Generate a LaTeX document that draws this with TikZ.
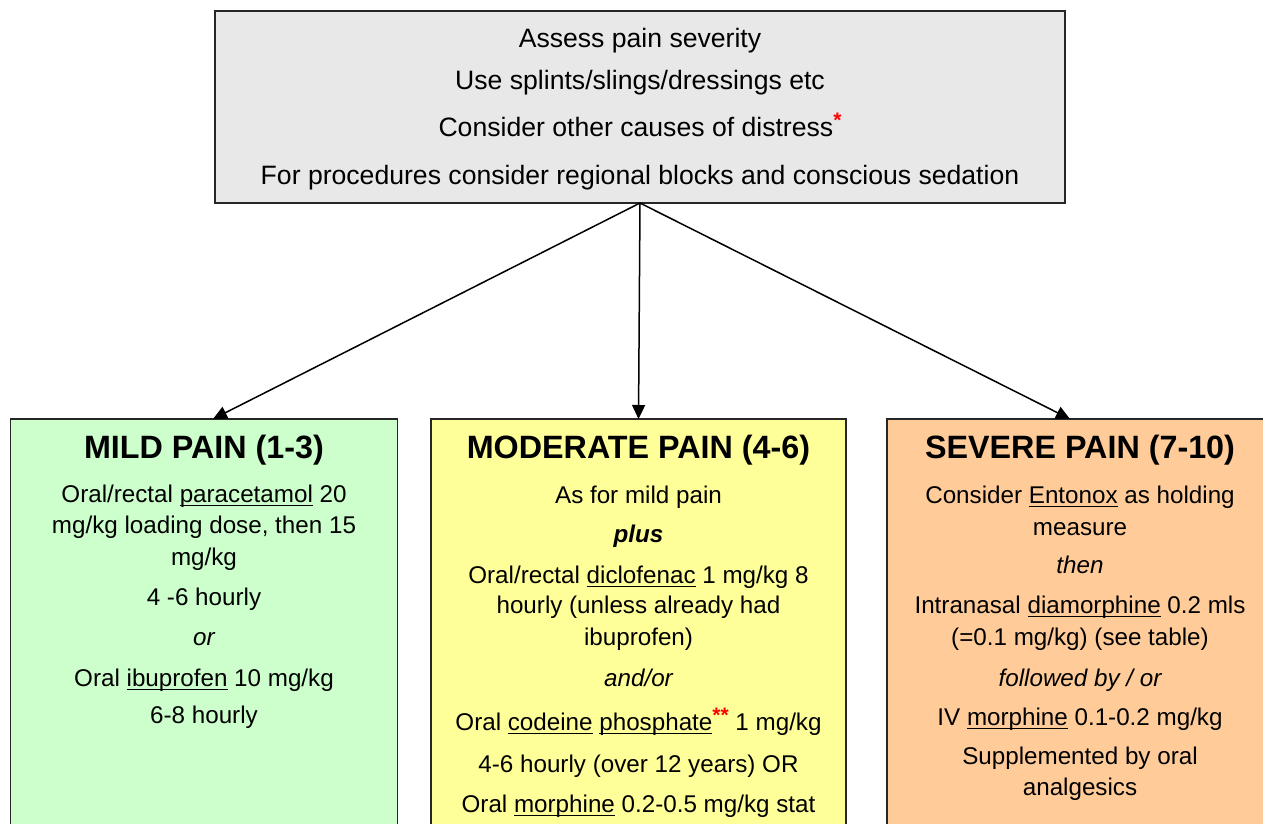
\documentclass[tikz,border=0pt]{standalone}
\usepackage{fontspec}
\setmainfont{Liberation Sans}
\usetikzlibrary{arrows.meta}
\definecolor{topgray}{RGB}{232,232,232}
\definecolor{mildgreen}{RGB}{204,255,204}
\definecolor{modyellow}{RGB}{255,255,153}
\definecolor{sevorange}{RGB}{255,204,153}
\definecolor{starred}{RGB}{255,0,0}
\newcommand\ulx[1]{\setbox0=\hbox{#1}\rlap{\rule[-4pt]{\wd0}{1.5pt}}\box0\relax}
\newcommand\redstar[1]{\raisebox{0.32em}{\textcolor{starred}{\fontsize{21}{21}\selectfont\bfseries #1}}}
\tikzset{
  box/.style={draw=black!85, line width=1.5pt, inner sep=0pt, outer sep=0pt},
  txt/.style={anchor=base, inner sep=0pt, font=\fontsize{24.2}{28}\selectfont},
  toptxt/.style={anchor=base, inner sep=0pt, font=\fontsize{26.6}{30}\selectfont},
  ttl/.style={anchor=base, inner sep=0pt, font=\fontsize{32.3}{36}\selectfont\bfseries},
  arr/.style={line width=1.5pt, -{Triangle[length=14pt,width=13pt]}}
}
\begin{document}
\begin{tikzpicture}[x=1pt,y=-1pt]
\clip (0,0) rectangle (1263,823);
\fill[white] (0,0) rectangle (1263,823);
% boxes
\node[box, fill=topgray, minimum width=850pt, minimum height=192pt] (top) at (640,107) {};
\node[box, fill=mildgreen, minimum width=387pt, minimum height=440pt] (mild) at (204,639) {};
\node[box, fill=modyellow, minimum width=415pt, minimum height=440pt] (mod) at (638.5,639) {};
\node[box, fill=sevorange, minimum width=386pt, minimum height=440pt] (sev) at (1080,639) {};
% connectors
\draw[arr] (top.south) -- (213,419);
\draw[arr] (top.south) -- (mod.north);
\draw[arr] (top.south) -- (1070,419);
% top text
\node[toptxt] (t1) at (640,47) {Assess pain severity};
\node[toptxt] (t2) at (640,89) {Use splints/slings/dressings etc};
\node[toptxt] (t3) at (640,136) {Consider other causes of distress\redstar{*}};
\node[toptxt] (t4) at (640,184) {For procedures consider regional blocks and conscious sedation};
% mild
\node[ttl] (m0) at (204,458) {MILD PAIN (1-3)};
\node[txt] (m1) at (204,502) {Oral/rectal \ulx{paracetamol} 20};
\node[txt] (m2) at (204,533) {mg/kg loading dose, then 15};
\node[txt] (m3) at (204,565) {mg/kg};
\node[txt] (m4) at (204,605) {4 -6 hourly};
\node[txt] (m5) at (204,645) {\itshape or};
\node[txt] (m6) at (204,686) {Oral \ulx{ibuprofen} 10 mg/kg};
\node[txt] (m7) at (204,723) {6-8 hourly};
% moderate
\node[ttl] (d0) at (638.5,458) {MODERATE PAIN (4-6)};
\node[txt] (d1) at (638.5,503) {As for mild pain};
\node[txt] (d2) at (638.5,542) {\bfseries\itshape plus};
\node[txt] (d3) at (638.5,583) {Oral/rectal \ulx{diclofenac} 1 mg/kg 8};
\node[txt] (d4) at (638.5,613) {hourly (unless already had};
\node[txt] (d5) at (638.5,645) {ibuprofen)};
\node[txt] (d6) at (638.5,686) {\itshape and/or};
\node[txt] (d7) at (638.5,730) {Oral \ulx{codeine} \ulx{phosphate}\redstar{**} 1 mg/kg};
\node[txt] (d8) at (638.5,772) {4-6 hourly (over 12 years) OR};
\node[txt] (d9) at (638.5,812) {Oral \ulx{morphine} 0.2-0.5 mg/kg stat};
% severe
\node[ttl] (s0) at (1080,458) {SEVERE PAIN (7-10)};
\node[txt] (s1) at (1080,503) {Consider \ulx{Entonox} as holding};
\node[txt] (s2) at (1080,535) {measure};
\node[txt] (s3) at (1080,573) {\itshape then};
\node[txt] (s4) at (1080,613) {Intranasal \ulx{diamorphine} 0.2 mls};
\node[txt] (s5) at (1080,645) {(=0.1 mg/kg) (see table)};
\node[txt] (s6) at (1080,686) {\itshape followed by / or};
\node[txt] (s7) at (1080,725) {IV \ulx{morphine} 0.1-0.2 mg/kg};
\node[txt] (s8) at (1080,764) {Supplemented by oral};
\node[txt] (s9) at (1080,795) {analgesics};
\end{tikzpicture}
\end{document}
